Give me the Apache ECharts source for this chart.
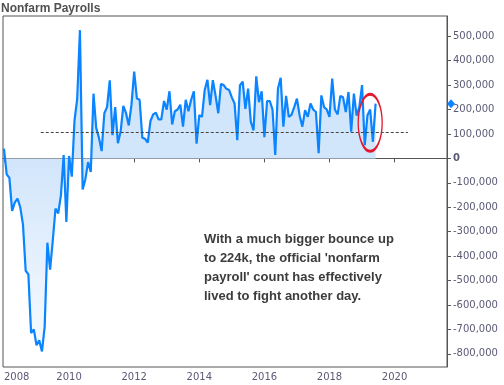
<!DOCTYPE html>
<html>
<head>
<meta charset="utf-8">
<script src="https://cdn.jsdelivr.net/npm/echarts@6/dist/echarts.min.js"></script>
<style>
html,body{margin:0;padding:0;background:#fff;}
#chart{width:504px;height:385px;}
</style>
</head>
<body>
<div id="chart"></div>
<script>
// Monthly change in nonfarm payrolls (thousands), Jan 2008 – Jun 2019
var startYear = 2008;
var payrolls = [
  // 2008
  40, -65, -80, -215, -180, -165, -200, -270, -460, -475, -715, -700,
  // 2009
  -765, -745, -790, -690, -345, -455, -335, -205, -225, -150, 14, -260,
  // 2010
  10, -75, 155, 245, 525, -127, -85, -15, -55, 265, 125, 85,
  // 2011
  30, 185, 210, 320, 95, 210, 62, 110, 215, 185, 135, 220,
  // 2012
  355, 245, 240, 85, 80, 65, 153, 180, 187, 160, 160, 235,
  // 2013
  200, 275, 139, 193, 200, 220, 130, 240, 193, 240, 275, 60,
  // 2014
  177, 170, 280, 322, 218, 320, 257, 185, 305, 300, 285, 280,
  // 2015
  250, 225, 75, 300, 314, 203, 286, 150, 115, 336, 230, 275,
  // 2016
  87, 235, 235, 200, 14, 285, 330, 130, 256, 170, 178, 210,
  // 2017
  245, 175, 130, 197, 170, 225, 200, 190, 21, 258, 210, 200,
  // 2018
  170, 327, 200, 180, 256, 250, 190, 272, 109, 265, 175, 210,
  // 2019
  300, 54, 177, 200, 68, 224
];
var yTicks = [-800000,-700000,-600000,-500000,-400000,-300000,-200000,-100000,0,100000,200000,300000,400000,500000];
var xTicks = [2008, 2010, 2012, 2014, 2016, 2018, 2020];
var referenceLevel = 107000;
var referenceSpan = [2009.13, 2020.41];
var title = 'Nonfarm Payrolls';
var note = "With a much bigger bounce up\nto 224k, the official 'nonfarm\npayroll' count has effectively\nlived to fight another day.";

var seriesData = payrolls.map(function (v, i) { return [startYear + i / 12, v * 1000]; });
var last = seriesData[seriesData.length - 1];
var xMin = 2007.97, xMax = 2021.61;

function fmt(v) { return String(Math.round(v)).replace(/\B(?=(\d{3})+(?!\d))/g, ','); }

var chart = echarts.init(document.getElementById('chart'), null, {renderer: 'canvas'});
var labelColor = '#5a5a76';
var axisColor = '#555555';

chart.setOption({
  animation: false,
  backgroundColor: '#ffffff',
  grid: { left: 3, top: 16, right: 57, bottom: 18, show: true, borderColor: axisColor, borderWidth: 1, backgroundColor: 'transparent' },
  xAxis: {
    type: 'value', min: xMin, max: xMax,
    axisLine: { show: true, lineStyle: { color: axisColor, width: 1 } },
    axisTick: { show: true, length: 4, lineStyle: { color: axisColor }, customValues: xTicks },
    axisLabel: { customValues: xTicks, color: labelColor, fontFamily: 'DejaVu Sans', fontSize: 10, margin: 5,
      alignMinLabel: 'left', formatter: function (v) { return String(Math.round(v)); } },
    splitLine: { show: false }
  },
  yAxis: {
    type: 'value', position: 'right', min: -854000, max: 583000,
    axisLine: { show: true, lineStyle: { color: axisColor, width: 1 } },
    axisTick: { show: true, length: 4, lineStyle: { color: axisColor }, customValues: yTicks },
    axisLabel: { customValues: yTicks, color: labelColor, fontFamily: 'DejaVu Sans', fontSize: 10, margin: 6,
      formatter: function (v) { return v === 0 ? '{b|0}' : fmt(v); },
      rich: { b: { fontWeight: 'bold', color: labelColor, fontFamily: 'DejaVu Sans', fontSize: 10 } } },
    splitLine: { show: false }
  },
  graphic: [
    { type: 'text', left: 1, top: 3, style: { text: title, fill: '#505050', font: 'bold 12px "Liberation Sans"' } },
    { type: 'text', left: 204, top: 230, style: { text: note, fill: '#3c3c3c', font: 'bold 13px "Liberation Sans"', lineHeight: 19 } }
  ],
  series: [{
    type: 'line',
    data: seriesData,
    showSymbol: false,
    symbol: 'none',
    lineStyle: { color: '#0a84ff', width: 2.2 },
    areaStyle: {
      origin: 0,
      opacity: 1,
      color: new echarts.graphic.LinearGradient(0, 158, 0, 362, [
        { offset: 0, color: '#d1e5fb' },
        { offset: 1, color: '#fafcff' }
      ], true)
    },
    z: 3,
    markLine: {
      silent: true, symbol: 'none', label: { show: false },
      lineStyle: { color: '#444444', width: 1, type: [3, 2] },
      data: [[{ coord: [referenceSpan[0], referenceLevel] }, { coord: [referenceSpan[1], referenceLevel] }]]
    },
    markPoint: {
      silent: true, label: { show: false },
      data: [
        { coord: [2019.25, 146000], symbol: 'circle', symbolSize: [24, 57],
          itemStyle: { color: 'rgba(0,0,0,0)', borderColor: '#e5172d', borderWidth: 2 } },
        { coord: [xMax, last[1]], symbol: 'diamond', symbolSize: [8, 9], symbolOffset: [4, 0],
          itemStyle: { color: '#0a84ff' } }
      ]
    }
  }]
});
</script>
</body>
</html>
